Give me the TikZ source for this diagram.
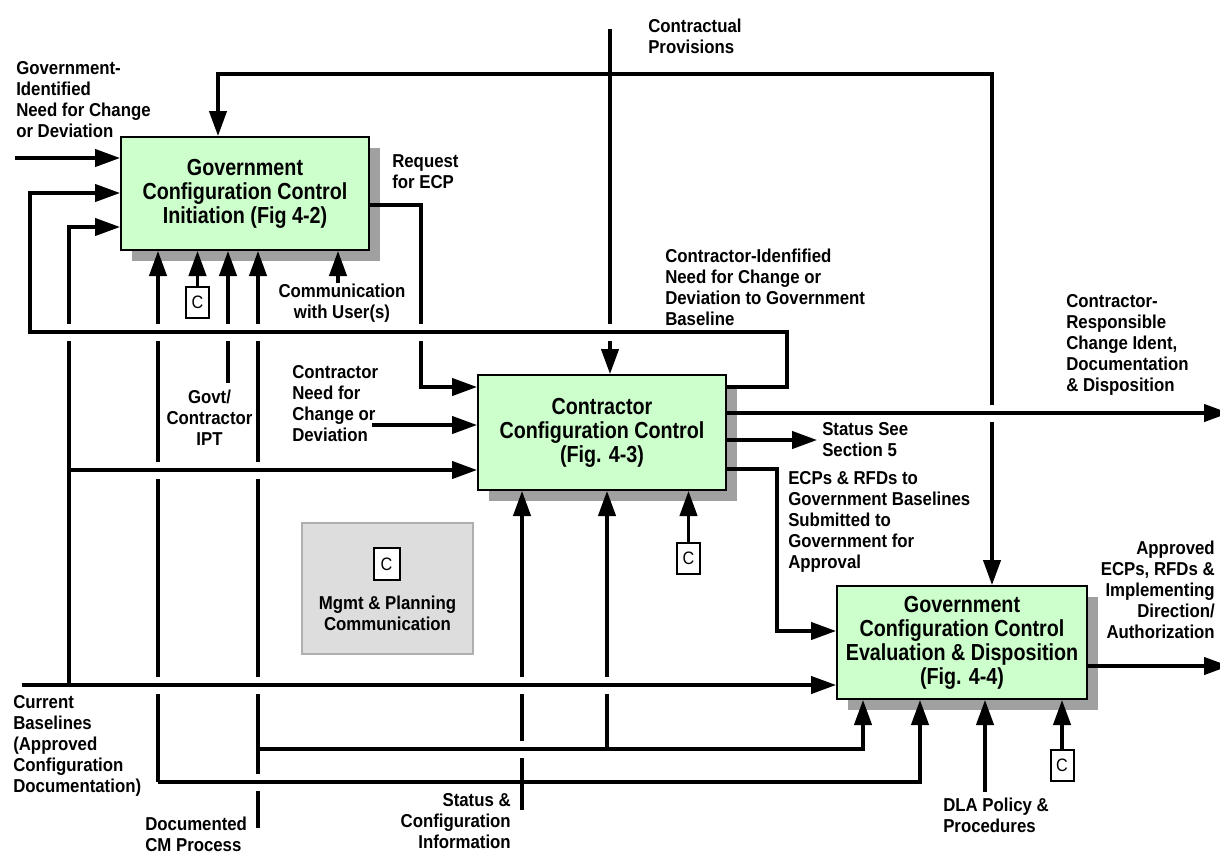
\documentclass[tikz,border=0pt]{standalone}
\usepackage{fontspec}
\setmainfont{Liberation Sans}[FakeStretch=0.9]
\newfontfamily\titlefont{Liberation Sans}[FakeStretch=0.85]
\usetikzlibrary{arrows.meta,calc,shadows}

\definecolor{boxgreen}{RGB}{204,255,204}
\definecolor{shadowgray}{RGB}{160,160,160}
\definecolor{panelgray}{RGB}{221,221,221}
\definecolor{panelborder}{RGB}{175,175,175}

% break a vertical line where a horizontal one passes over it
\newcommand{\xgap}[1]{%
  \fill[white] ($(#1)+(-3.5,-8.5)$) rectangle ($(#1)+(3.5,8.5)$);
  \draw[line] ($(#1)+(-6,0)$) -- ($(#1)+(6,0)$);}

\begin{document}
\begin{tikzpicture}[x=0.75pt,y=-0.75pt,
  line/.style={line width=2.4pt},
  arr/.style={line, -{Triangle[length=18.75pt,width=13pt]}},
  proc/.style={draw=black, line width=1.5pt, fill=boxgreen, align=center,
    inner sep=0pt, font=\titlefont\bfseries\fontsize{17.4}{18}\selectfont,
    drop shadow={shadow xshift=8.25pt, shadow yshift=-8.5pt, fill=shadowgray, opacity=1}},
  lbl/.style={font=\bfseries\fontsize{14}{15.75}\selectfont, inner sep=0pt},
  cbox/.style={draw=black, line width=1.5pt, fill=white, minimum width=17.25pt,
    minimum height=23.25pt, inner sep=0pt, font=\fontsize{13.5}{15}\selectfont}
]
\useasboundingbox (0,0) rectangle (1220,854);
\clip (0,0) rectangle (1220,854);
\fill[white] (0,0) rectangle (1220,854);

% process boxes
\node[proc, minimum width=186pt, minimum height=84.75pt] (b1) at (245,193.5)
  {Government\\Configuration Control\\Initiation (Fig 4-2)};
\node[proc, minimum width=186pt, minimum height=86.25pt] (b2) at (602,432.5)
  {Contractor\\Configuration Control\\(Fig. 4-3)};
\node[proc, minimum width=187.5pt, minimum height=84.75pt] (b3) at (962,642.5)
  {Government\\Configuration Control\\Evaluation \& Disposition\\(Fig. 4-4)};

% management panel
\node[draw=panelborder, fill=panelgray, line width=0.8pt, minimum width=128.25pt,
  minimum height=98.25pt] (mg) at (387.5,588.5) {};
\node[cbox, minimum width=19.5pt, minimum height=24pt] (c4) at (386.5,564) {C};
\node[lbl, align=center] (lmg) at (387.5,613) {Mgmt \& Planning\\Communication};

% control boxes
\node[cbox] (c1) at (197.5,302.5) {C};
\node[cbox] (c2) at (688.5,558.5) {C};
\node[cbox] (c3) at (1062,765) {C};

% labels
\node[lbl, anchor=west, align=left] (lgi) at (16,100) {Government-\\Identified\\Need for Change\\or Deviation};
\node[lbl, anchor=west, align=left] (lrq) at (392,172) {Request\\for ECP};
\node[lbl, align=center] (lcu) at (342,303) {Communication\\with User(s)};
\node[lbl, align=center] (lipt) at (209.5,418) {Govt/\\Contractor\\IPT};
\node[lbl, anchor=west, align=left] (lcn) at (292,404) {Contractor\\Need for\\Change or\\Deviation};
\node[lbl, anchor=west, align=left] (lcp) at (648,36) {Contractual\\Provisions};
\node[lbl, anchor=west, align=left] (lci) at (665,287) {Contractor-Idenfified\\Need for Change or\\Deviation to Government\\Baseline};
\node[lbl, anchor=west, align=left] (lcr) at (1066,345) {Contractor-\\Responsible\\Change Ident,\\Documentation\\\& Disposition};
\node[lbl, anchor=west, align=left] (lss) at (822,440) {Status See\\Section 5};
\node[lbl, anchor=west, align=left] (lec) at (788,522) {ECPs \& RFDs to\\Government Baselines\\Submitted to\\Government for\\Approval};
\node[lbl, anchor=east, align=right] (lap) at (1215,590) {Approved\\ECPs, RFDs \&\\Implementing\\Direction/\\Authorization};
\node[lbl, anchor=west, align=left] (lcb) at (13,746) {Current\\Baselines\\(Approved\\Configuration\\Documentation)};
\node[lbl, anchor=west, align=left] (ldc) at (145,834) {Documented\\CM Process};
\node[lbl, anchor=east, align=right] (lsi) at (511,821) {Status \&\\Configuration\\Information};
\node[lbl, anchor=west, align=left] (ldla) at (943,815) {DLA Policy \&\\Procedures};

% connector end points and bends
\coordinate (gin) at (15,158);
\coordinate (fb1) at (787,387); \coordinate (fb2) at (787,332);
\coordinate (fb3) at (30,332);  \coordinate (fb4) at (30,193);
\coordinate (cb) at (22,685);   \coordinate (cb69) at (69,685);
\coordinate (cb69b) at (69,470); \coordinate (cb69t) at (69,227);
\coordinate (sc158) at (158,782); \coordinate (sc920) at (920,782);
\coordinate (st) at (522,810);
\coordinate (cm) at (258,828);  \coordinate (cm749) at (258,749);
\coordinate (cm863) at (863,749); \coordinate (cm607) at (607,749);
\coordinate (ipt) at (228,383);
\coordinate (cu) at (338,283);
\coordinate (rq1) at (421,205); \coordinate (rq2) at (421,387);
\coordinate (cn) at (372,425);
\coordinate (cp) at (610,29);   \coordinate (cpj) at (610,74);
\coordinate (cpl) at (218,74);  \coordinate (cpr) at (992,74);
\coordinate (o1) at (1229,413); \coordinate (o2) at (817,440);
\coordinate (o3a) at (777,469); \coordinate (o3b) at (777,631);
\coordinate (o4) at (1229,666);
\coordinate (dla) at (985,792);

% initiation inputs
\draw[arr] (gin) -- (gin -| b1.west);
\draw[arr] (fb1 -| b2.east) -- (fb1) -- (fb2) -- (fb3) -- (fb4) -- (fb4 -| b1.west);
\draw[arr] (cb69) -- (cb69t) -- (cb69t -| b1.west);
\draw[arr] (cb69b) -- (cb69b -| b2.west);
\draw[arr] (cb) -- (cb -| b3.west);

% controls and mechanisms from below
\draw[arr] (sc158) -- (sc158 |- b1.south);
\draw[arr] (sc158) -- (sc920) -- (sc920 |- b3.south);
\draw[arr] (st) -- (st |- b2.south);
\draw[arr] (cm) -- (cm |- b1.south);
\draw[arr] (cm749) -- (cm863) -- (cm863 |- b3.south);
\draw[arr] (cm607) -- (cm607 |- b2.south);
\draw[arr] (ipt) -- (ipt |- b1.south);
\draw[arr] (c1.north) -- (c1.north |- b1.south);
\draw[arr] (cu) -- (cu |- b1.south);
\draw[arr] (c2.north) -- (c2.north |- b2.south);
\draw[arr] (c3.north) -- (c3.north |- b3.south);
\draw[arr] (dla) -- (dla |- b3.south);

% request and contractor inputs
\draw[arr] (rq1 -| b1.east) -- (rq1) -- (rq2) -- (rq2 -| b2.west);
\draw[arr] (cn) -- (cn -| b2.west);

% contractual provisions
\draw[arr] (cp) -- (cp |- b2.north);
\draw[arr] (cpj) -- (cpl) -- (cpl |- b1.north);
\draw[arr] (cpj) -- (cpr) -- (cpr |- b3.north);

% outputs
\draw[arr] (o1 -| b2.east) -- (o1);
\draw[arr] (o2 -| b2.east) -- (o2);
\draw[arr] (o3a -| b2.east) -- (o3a) -- (o3b) -- (o3b -| b3.west);
\draw[arr] (o4 -| b3.east) -- (o4);

% line crossings
\foreach \p in {{69,332},{158,332},{228,332},{258,332},{421,332},{610,332},
  {158,470},{258,470},{158,685},{258,685},{522,685},{607,685},
  {522,749},{258,782},{992,413}} {\xgap{\p}}
\end{tikzpicture}
\end{document}
